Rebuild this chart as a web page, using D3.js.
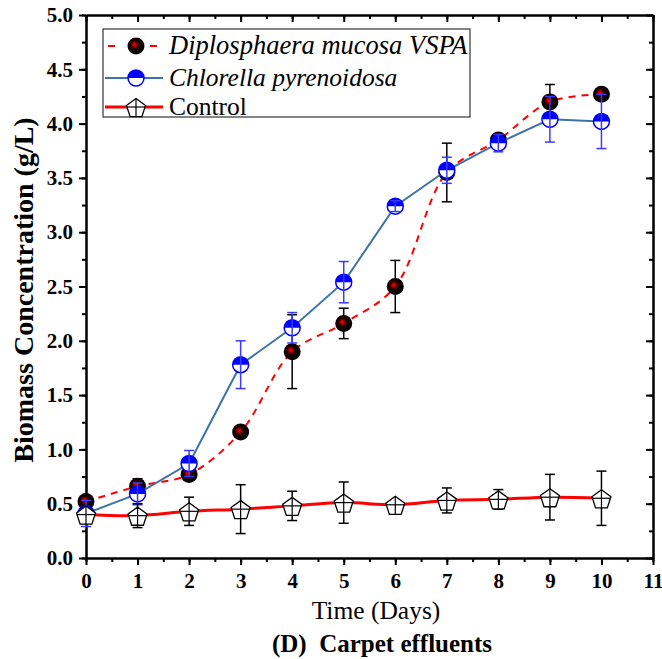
<!DOCTYPE html>
<html>
<head>
<meta charset="utf-8">
<script src="https://cdn.jsdelivr.net/npm/d3@7"></script>
<style>
  body { margin: 0; background: #fff; }
  svg { display: block; }
  text { font-family: "Liberation Serif", "Times New Roman", serif; }
</style>
</head>
<body>
<div id="chart"></div>
<script>
// Data
var days = [0, 1, 2, 3, 4, 5, 6, 7, 8, 9, 10];

var diploMean = [0.52, 0.66, 0.77, 1.16, 1.90, 2.16, 2.50, 3.55, 3.85, 4.20, 4.27];
var diploErr  = [0.03, 0.07, 0.04, 0.05, 0.34, 0.14, 0.24, 0.27, 0.04, 0.16, 0.02];

var chlorMean = [0.41, 0.59, 0.87, 1.78, 2.12, 2.54, 3.24, 3.57, 3.82, 4.04, 4.02];
var chlorErr  = [0.12, 0.10, 0.12, 0.22, 0.14, 0.19, 0.05, 0.12, 0.08, 0.21, 0.25];

var ctrlMean = [0.40, 0.39, 0.43, 0.45, 0.48, 0.51, 0.49, 0.53, 0.54, 0.56, 0.55];
var ctrlErr  = [0.05, 0.11, 0.13, 0.225, 0.135, 0.19, 0.04, 0.115, 0.09, 0.21, 0.25];

var yTicks = [0, 0.5, 1, 1.5, 2, 2.5, 3, 3.5, 4, 4.5, 5];
var xTicks = [0, 1, 2, 3, 4, 5, 6, 7, 8, 9, 10, 11];

var seriesNames = ["Diplosphaera mucosa VSPA", "Chlorella pyrenoidosa", "Control"];

// Layout
var width = 662, height = 659;
var plotL = 86, plotR = 653, plotT = 15, plotB = 558;
var serif = "Liberation Serif";

var svg = d3.select("#chart").append("svg")
  .attr("width", width)
  .attr("height", height);

var x = d3.scaleLinear().domain([0, 11]).range([plotL, plotR]);
var y = d3.scaleLinear().domain([0, 5]).range([plotB, plotT]);

// gradient for the black/red balls
var defs = svg.append("defs");
var grad = defs.append("radialGradient")
  .attr("id", "ball")
  .attr("cx", "42%").attr("cy", "42%").attr("r", "58%");
grad.append("stop").attr("offset", "0%").attr("stop-color", "#ff0000");
grad.append("stop").attr("offset", "18%").attr("stop-color", "#b00000");
grad.append("stop").attr("offset", "42%").attr("stop-color", "#1a0000");
grad.append("stop").attr("offset", "100%").attr("stop-color", "#000");

var halfClip = defs.append("clipPath").attr("id", "tophalf");
halfClip.append("rect").attr("x", -10).attr("y", -10).attr("width", 20).attr("height", 10);

// Axes
var yMinor = d3.range(0, 5.01, 0.25);
var xMinor = d3.range(0, 11.01, 0.5);

function styleAxis(g) {
  g.selectAll("path").attr("stroke", "#000").attr("stroke-width", 2);
  g.selectAll("line").attr("stroke", "#000").attr("stroke-width", 2);
}

// minor ticks
svg.append("g").attr("transform", "translate(" + plotL + ",0)")
  .call(d3.axisLeft(y).tickValues(yMinor).tickSize(4).tickSizeOuter(0).tickFormat(""))
  .call(styleAxis);
svg.append("g").attr("transform", "translate(0," + plotB + ")")
  .call(d3.axisBottom(x).tickValues(xMinor).tickSize(4).tickSizeOuter(0).tickFormat(""))
  .call(styleAxis);
svg.append("g").attr("transform", "translate(" + plotR + ",0)")
  .call(d3.axisRight(y).tickValues(yMinor).tickSize(-4).tickSizeOuter(0).tickFormat(""))
  .call(styleAxis);
svg.append("g").attr("transform", "translate(0," + plotT + ")")
  .call(d3.axisTop(x).tickValues(xMinor).tickSize(-4).tickSizeOuter(0).tickFormat(""))
  .call(styleAxis);

// major ticks
var yAxis = svg.append("g").attr("transform", "translate(" + plotL + ",0)")
  .call(d3.axisLeft(y).tickValues(yTicks).tickSize(7).tickSizeOuter(0).tickPadding(6).tickFormat(d3.format(".1f")))
  .call(styleAxis);
var xAxis = svg.append("g").attr("transform", "translate(0," + plotB + ")")
  .call(d3.axisBottom(x).tickValues(xTicks).tickSize(7).tickSizeOuter(0).tickPadding(8).tickFormat(d3.format("d")))
  .call(styleAxis);
svg.append("g").attr("transform", "translate(" + plotR + ",0)")
  .call(d3.axisRight(y).tickValues(yTicks).tickSize(-7).tickSizeOuter(0).tickFormat(""))
  .call(styleAxis);
svg.append("g").attr("transform", "translate(0," + plotT + ")")
  .call(d3.axisTop(x).tickValues(xTicks).tickSize(-7).tickSizeOuter(0).tickFormat(""))
  .call(styleAxis);

[yAxis, xAxis].forEach(function(a) {
  a.attr("font-family", serif);
  a.selectAll("text")
    .attr("fill", "#000")
    .attr("font-family", serif)
    .attr("font-weight", "bold")
    .attr("font-size", 21);
});

// Titles
svg.append("text")
  .attr("transform", "translate(33,290)rotate(-90)")
  .attr("text-anchor", "middle")
  .attr("font-family", serif)
  .attr("font-weight", "bold")
  .attr("font-size", 28)
  .text("Biomass Concentration (g/L)");

svg.append("text")
  .attr("x", 376)
  .attr("y", 619)
  .attr("text-anchor", "middle")
  .attr("font-family", serif)
  .attr("font-size", 25.5)
  .text("Time (Days)");

svg.append("text")
  .attr("x", 382)
  .attr("y", 652)
  .attr("text-anchor", "middle")
  .attr("font-family", serif)
  .attr("font-weight", "bold")
  .attr("font-size", 25)
  .attr("xml:space", "preserve")
  .text("(D)  Carpet effluents");

// Marker helpers
function drawBall(g, cx, cy) {
  g.append("circle").attr("cx", cx).attr("cy", cy).attr("r", 8.5).attr("fill", "url(#ball)");
}
function drawHalf(g, cx, cy) {
  var m = g.append("g").attr("transform", "translate(" + cx + "," + cy + ")");
  m.append("circle").attr("r", 8).attr("fill", "#fff");
  m.append("circle").attr("r", 8).attr("fill", "#0000ff").attr("clip-path", "url(#tophalf)");
  m.append("circle").attr("r", 8).attr("fill", "none").attr("stroke", "#0000ff").attr("stroke-width", 1.5);
}
var penta = d3.range(5).map(function(i) {
  var a = -Math.PI / 2 + i * 2 * Math.PI / 5;
  return [10 * Math.cos(a), 10 * Math.sin(a) + 1.5];
});
function drawPenta(g, cx, cy) {
  var m = g.append("g").attr("transform", "translate(" + cx + "," + cy + ")");
  m.append("polygon").attr("points", penta.map(function(p) { return p.join(","); }).join(" "))
    .attr("fill", "#fff").attr("stroke", "#000").attr("stroke-width", 1.3);
  m.append("line").attr("x1", -9).attr("x2", 9).attr("y1", 0).attr("y2", 0).attr("stroke", "#000").attr("stroke-width", 1.2);
  m.append("line").attr("x1", 0).attr("x2", 0).attr("y1", -8.5).attr("y2", 9.5).attr("stroke", "#000").attr("stroke-width", 1.2);
}

function errorBars(g, mean, err, color) {
  days.forEach(function(d, i) {
    var cx = x(d), y1 = y(mean[i] + err[i]), y2 = y(mean[i] - err[i]);
    g.append("line").attr("x1", cx).attr("x2", cx).attr("y1", y1).attr("y2", y2)
      .attr("stroke", color).attr("stroke-width", 1.5);
    [y1, y2].forEach(function(yy) {
      g.append("line").attr("x1", cx - 5).attr("x2", cx + 5).attr("y1", yy).attr("y2", yy)
        .attr("stroke", color).attr("stroke-width", 1.5);
    });
  });
}

var line = d3.line().curve(d3.curveCatmullRom.alpha(0.5))
  .x(function(d) { return x(d[0]); })
  .y(function(d) { return y(d[1]); });
var straight = d3.line()
  .x(function(d) { return x(d[0]); })
  .y(function(d) { return y(d[1]); });

// Diplosphaera series
var gD = svg.append("g");
errorBars(gD, diploMean, diploErr, "#000");
gD.append("path").attr("d", line(d3.zip(days, diploMean)))
  .attr("fill", "none").attr("stroke", "#ff0000").attr("stroke-width", 2).attr("stroke-dasharray", "7,6");
days.forEach(function(d, i) { drawBall(gD, x(d), y(diploMean[i])); });

// Chlorella series
var gC = svg.append("g");
gC.append("path").attr("d", straight(d3.zip(days, chlorMean)))
  .attr("fill", "none").attr("stroke", "#3f73a6").attr("stroke-width", 2);
days.forEach(function(d, i) { drawHalf(gC, x(d), y(chlorMean[i])); });
errorBars(gC, chlorMean, chlorErr, "#3a3aff");

// Control series
var gK = svg.append("g");
gK.append("path").attr("d", line(d3.zip(days, ctrlMean)))
  .attr("fill", "none").attr("stroke", "#ff0000").attr("stroke-width", 3);
errorBars(gK, ctrlMean, ctrlErr, "#000");
days.forEach(function(d, i) { drawPenta(gK, x(d), y(ctrlMean[i])); });

// Legend
var leg = svg.append("g");
leg.append("rect").attr("x", 103).attr("y", 29).attr("width", 367).attr("height", 88)
  .attr("fill", "#fff").attr("stroke", "#333").attr("stroke-width", 1.2);
var legY = [46, 78, 107];

leg.append("line").attr("x1", 105).attr("x2", 163).attr("y1", legY[0]).attr("y2", legY[0])
  .attr("stroke", "#ff0000").attr("stroke-width", 2).attr("stroke-dasharray", "7,14").attr("stroke-dashoffset", -3);
drawBall(leg, 136, legY[0]);
leg.append("line").attr("x1", 105).attr("x2", 163).attr("y1", legY[1]).attr("y2", legY[1])
  .attr("stroke", "#3f73a6").attr("stroke-width", 2);
drawHalf(leg, 136, legY[1]);
leg.append("line").attr("x1", 105).attr("x2", 163).attr("y1", legY[2]).attr("y2", legY[2])
  .attr("stroke", "#ff0000").attr("stroke-width", 3);
drawPenta(leg, 136, legY[2]);

seriesNames.forEach(function(name, i) {
  leg.append("text")
    .attr("x", 169)
    .attr("y", legY[i] + 8)
    .attr("font-family", serif)
    .attr("font-size", i === 0 ? 26.5 : 25.5)
    .attr("font-style", i < 2 ? "italic" : "normal")
    .text(name);
});
</script>
</body>
</html>
